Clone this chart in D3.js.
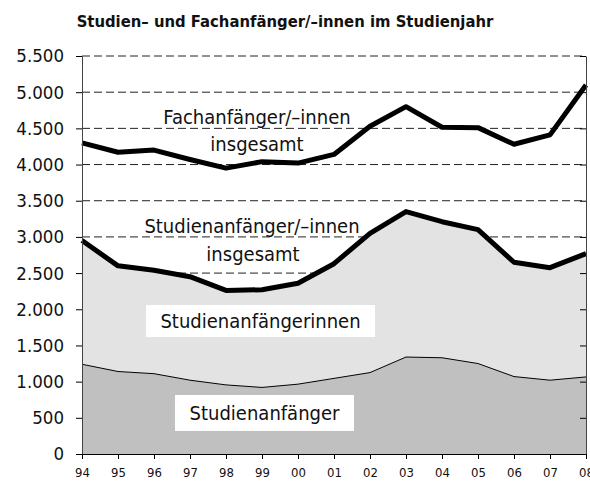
<!DOCTYPE html>
<html>
<head>
<meta charset="utf-8">
<script src="https://d3js.org/d3.v7.min.js"></script>
<style>
  body { margin: 0; background: #fff; }
  svg text { font-family: "DejaVu Sans Condensed", "DejaVu Sans", sans-serif; font-stretch: condensed; fill: #111; }
</style>
</head>
<body>
<div id="my_dataviz"></div>
<script>
// data
var years = ["94","95","96","97","98","99","00","01","02","03","04","05","06","07","08"];
var fachTotal = [4300, 4170, 4200, 4070, 3950, 4040, 4020, 4140, 4530, 4800, 4515, 4510, 4280, 4410, 5100];
var studTotal = [2950, 2600, 2540, 2450, 2260, 2270, 2360, 2630, 3050, 3350, 3210, 3100, 2650, 2575, 2770];
var studMale = [1240, 1140, 1110, 1020, 955, 920, 965, 1045, 1125, 1340, 1330, 1250, 1070, 1020, 1065];
var yTicks = [0, 500, 1000, 1500, 2000, 2500, 3000, 3500, 4000, 4500, 5000, 5500];

// set the dimensions and margins of the graph
var margin = {top: 56, right: 4, bottom: 30, left: 82},
    width = 590 - margin.left - margin.right,
    height = 484 - margin.top - margin.bottom;

var root = d3.select("#my_dataviz")
  .append("svg")
  .attr("width", 590)
  .attr("height", 484);

var svg = root.append("g")
  .attr("transform", "translate(" + margin.left + "," + margin.top + ")");

// Title
root.append("text")
  .attr("x", 285)
  .attr("y", 27)
  .attr("text-anchor", "middle")
  .style("font-size", "16.5px")
  .attr("font-weight", "bold")
  .text("Studien– und Fachanfänger/–innen im Studienjahr");

var x = d3.scalePoint()
  .domain(years)
  .range([0, width]);

var y = d3.scaleLinear()
  .domain([0, 5500])
  .range([height, 0]);

// dashed gridlines
svg.append("g")
  .selectAll("line")
  .data(yTicks.slice(1))
  .enter().append("line")
  .attr("x1", 0)
  .attr("x2", width)
  .attr("y1", function(d) { return y(d); })
  .attr("y2", function(d) { return y(d); })
  .attr("stroke", "#222")
  .attr("stroke-width", 1)
  .attr("stroke-dasharray", "8,4");

var rows = years.map(function(d, i) {
  return {year: d, fach: fachTotal[i], total: studTotal[i], male: studMale[i]};
});

// area for women (between male and total)
var areaTop = d3.area()
  .x(function(d) { return x(d.year); })
  .y0(function(d) { return y(d.male); })
  .y1(function(d) { return y(d.total); });

var areaLow = d3.area()
  .x(function(d) { return x(d.year); })
  .y0(y(0))
  .y1(function(d) { return y(d.male); });

svg.append("path")
  .datum(rows)
  .attr("fill", "#e3e3e3")
  .attr("d", areaTop);

svg.append("path")
  .datum(rows)
  .attr("fill", "#c0c0c0")
  .attr("d", areaLow);

var line = function(key) {
  return d3.line()
    .x(function(d) { return x(d.year); })
    .y(function(d) { return y(d[key]); });
};

svg.append("path")
  .datum(rows)
  .attr("fill", "none")
  .attr("stroke", "#000")
  .attr("stroke-width", 1)
  .attr("d", line("male"));

svg.append("path")
  .datum(rows)
  .attr("fill", "none")
  .attr("stroke", "#000")
  .attr("stroke-width", 5)
  .attr("stroke-linejoin", "round")
  .attr("d", line("total"));

svg.append("path")
  .datum(rows)
  .attr("fill", "none")
  .attr("stroke", "#000")
  .attr("stroke-width", 5)
  .attr("stroke-linejoin", "round")
  .attr("d", line("fach"));

// Y axis
var yAxis = svg.append("g")
  .call(d3.axisLeft(y).tickValues(yTicks).tickSize(6).tickPadding(12)
    .tickFormat(function(d) { return d3.format(",")(d).replace(/,/g, "."); }));
yAxis.selectAll("text").style("font-size", "18.5px");
yAxis.select(".domain").attr("stroke", "#444");

// right axis with inner ticks
var rAxis = svg.append("g")
  .attr("transform", "translate(" + width + ",0)")
  .call(d3.axisRight(y).tickValues(yTicks).tickSizeInner(-6).tickSizeOuter(0).tickFormat(""));
rAxis.select(".domain").attr("stroke", "#444");

// X axis
var xAxis = svg.append("g")
  .attr("transform", "translate(0," + height + ")")
  .call(d3.axisBottom(x).tickSize(5).tickSizeOuter(0).tickPadding(9));
xAxis.selectAll("text").style("font-size", "13px");

// labels in the chart
var labels = [
  {t: "Fachanfänger/–innen", x: 257, y: 117},
  {t: "insgesamt", x: 257, y: 144},
  {t: "Studienanfänger/–innen", x: 252, y: 226},
  {t: "insgesamt", x: 253, y: 254}
];
labels.forEach(function(l) {
  root.append("text")
    .attr("x", l.x)
    .attr("y", l.y)
    .attr("dy", "0.35em")
    .attr("text-anchor", "middle")
    .style("font-size", "20px")
    .text(l.t);
});

// boxed labels
var boxes = [
  {t: "Studienanfängerinnen", x0: 146, x1: 375, y0: 305, y1: 337},
  {t: "Studienanfänger", x0: 175, x1: 354, y0: 395, y1: 431}
];
boxes.forEach(function(b) {
  root.append("rect")
    .attr("x", b.x0)
    .attr("y", b.y0)
    .attr("width", b.x1 - b.x0)
    .attr("height", b.y1 - b.y0)
    .attr("fill", "#fff");
  root.append("text")
    .attr("x", (b.x0 + b.x1) / 2)
    .attr("y", (b.y0 + b.y1) / 2)
    .attr("dy", "0.35em")
    .attr("text-anchor", "middle")
    .style("font-size", "20px")
    .text(b.t);
});
</script>
</body>
</html>
